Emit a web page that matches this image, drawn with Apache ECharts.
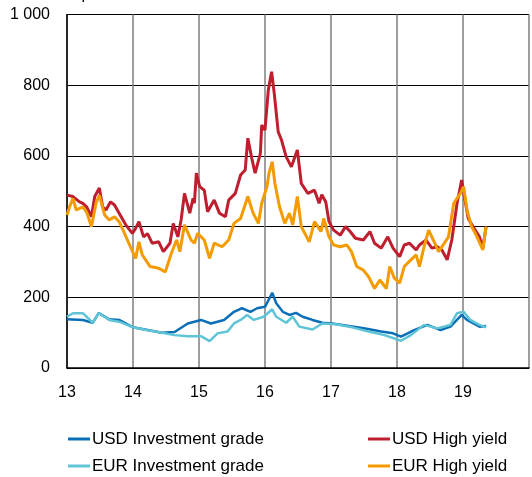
<!DOCTYPE html>
<html>
<head>
<meta charset="utf-8">
<script src="https://cdn.jsdelivr.net/npm/echarts@6/dist/echarts.min.js"></script>
<style>
  html, body { margin: 0; padding: 0; background: #fff; }
  #chart { width: 532px; height: 477px; }
</style>
</head>
<body>
<div id="chart"></div>
<script>
// spreads in basis points, x = year (13 = 2013)
const usdIgDates = [13.00, 13.24, 13.39, 13.48, 13.64, 13.79, 14.00, 14.24, 14.44, 14.63, 14.83, 15.03, 15.18, 15.38, 15.53, 15.65, 15.78, 15.88, 16.00, 16.11, 16.17, 16.27, 16.37, 16.47, 16.57, 16.72, 16.87, 17.02, 17.27, 17.52, 17.76, 17.94, 18.06, 18.26, 18.46, 18.66, 18.81, 18.98, 19.06, 19.25, 19.35];
const usdIgValues = [138, 136, 128, 155, 138, 136, 115, 107, 100, 102, 126, 136, 126, 136, 159, 169, 159, 169, 173, 213, 183, 159, 150, 156, 145, 136, 128, 126, 119, 112, 103, 98, 89, 107, 122, 107, 117, 150, 136, 117, 119];

const eurIgDates = [13.00, 13.09, 13.24, 13.39, 13.48, 13.64, 13.79, 14.00, 14.24, 14.44, 14.63, 14.83, 15.03, 15.16, 15.28, 15.43, 15.53, 15.63, 15.73, 15.83, 15.98, 16.11, 16.17, 16.32, 16.42, 16.52, 16.72, 16.87, 17.07, 17.32, 17.57, 17.81, 18.06, 18.21, 18.41, 18.61, 18.81, 18.91, 19.01, 19.11, 19.25, 19.35];
const eurIgValues = [145, 155, 155, 128, 155, 136, 131, 115, 106, 100, 93, 90, 90, 76, 98, 103, 126, 136, 150, 136, 145, 166, 145, 128, 145, 117, 109, 126, 124, 115, 103, 93, 77, 93, 122, 112, 122, 155, 159, 136, 122, 115];

const usdHyDates = [13.00, 13.09, 13.19, 13.24, 13.30, 13.37, 13.42, 13.49, 13.54, 13.59, 13.66, 13.72, 13.79, 13.89, 13.99, 14.04, 14.09, 14.16, 14.22, 14.29, 14.39, 14.46, 14.56, 14.61, 14.68, 14.73, 14.78, 14.86, 14.91, 14.93, 14.96, 15.01, 15.08, 15.13, 15.23, 15.31, 15.40, 15.45, 15.55, 15.63, 15.70, 15.74, 15.80, 15.85, 15.93, 15.95, 16.00, 16.05, 16.10, 16.14, 16.20, 16.25, 16.32, 16.40, 16.49, 16.55, 16.65, 16.75, 16.82, 16.86, 16.92, 16.97, 17.04, 17.14, 17.22, 17.29, 17.37, 17.49, 17.59, 17.66, 17.76, 17.86, 17.94, 18.04, 18.11, 18.19, 18.29, 18.34, 18.44, 18.53, 18.61, 18.68, 18.76, 18.83, 18.91, 18.98, 19.03, 19.08, 19.15, 19.25, 19.30, 19.35];
const usdHyValues = [489, 485, 470, 466, 455, 428, 485, 509, 456, 447, 470, 461, 438, 405, 381, 395, 414, 371, 380, 353, 357, 329, 353, 409, 371, 420, 494, 438, 480, 466, 551, 513, 503, 442, 475, 438, 428, 475, 494, 546, 560, 650, 593, 551, 607, 687, 673, 786, 838, 777, 668, 645, 598, 569, 617, 522, 494, 503, 466, 490, 470, 414, 390, 376, 400, 386, 367, 362, 386, 353, 339, 371, 339, 315, 348, 353, 334, 348, 362, 339, 343, 334, 306, 362, 466, 532, 475, 423, 400, 371, 339, 400];

const eurHyDates = [13.00, 13.04, 13.09, 13.14, 13.24, 13.30, 13.37, 13.44, 13.49, 13.57, 13.64, 13.72, 13.79, 13.86, 13.96, 14.04, 14.09, 14.14, 14.26, 14.39, 14.49, 14.58, 14.66, 14.71, 14.78, 14.88, 14.93, 14.98, 15.08, 15.16, 15.23, 15.35, 15.45, 15.53, 15.63, 15.74, 15.82, 15.90, 15.95, 16.03, 16.06, 16.11, 16.15, 16.22, 16.30, 16.37, 16.42, 16.49, 16.55, 16.67, 16.75, 16.85, 16.89, 16.97, 17.04, 17.14, 17.24, 17.31, 17.39, 17.49, 17.57, 17.66, 17.74, 17.84, 17.89, 17.96, 18.04, 18.11, 18.21, 18.29, 18.34, 18.41, 18.48, 18.56, 18.63, 18.73, 18.78, 18.86, 18.96, 19.01, 19.06, 19.13, 19.20, 19.30, 19.35];
const eurHyValues = [433, 456, 480, 447, 456, 440, 400, 466, 489, 433, 419, 428, 414, 386, 343, 310, 357, 320, 287, 282, 272, 324, 362, 329, 405, 362, 353, 381, 362, 310, 353, 343, 362, 409, 423, 485, 438, 409, 466, 513, 551, 584, 522, 456, 409, 438, 405, 485, 400, 357, 414, 386, 423, 371, 348, 343, 348, 329, 287, 277, 258, 225, 249, 225, 287, 254, 240, 287, 306, 320, 287, 343, 390, 358, 329, 357, 371, 466, 494, 513, 447, 400, 376, 334, 400];

const xTicks = [13, 14, 15, 16, 17, 18, 19];
const yTicks = [0, 200, 400, 600, 800, 1000];

const seriesNames = ["USD Investment grade", "EUR Investment grade", "USD High yield", "EUR High yield"];
const colors = ["#0a6fb7", "#5ec4d6", "#be1e2d", "#f49b00"];

function pairs(xs, ys) {
  return xs.map((x, i) => [x, ys[i]]);
}

const chart = echarts.init(document.getElementById("chart"));
const font = "Liberation Sans";

// one legend per entry so each sits where it does in the original
const legendSpots = [[68, 430], [68, 457], [368, 430], [368, 457]];

chart.setOption({
  animation: false,
  textStyle: { fontFamily: font },
  graphic: [
    {
      type: "text",
      left: 38,
      top: -13,
      style: { text: "Basis points", fontSize: 16, fontFamily: font, fill: "#000" }
    }
  ],
  legend: seriesNames.map((name, i) => ({
    data: [name],
    left: legendSpots[i][0],
    top: legendSpots[i][1],
    padding: 0,
    itemWidth: 22,
    itemHeight: 3,
    icon: "rect",
    textStyle: { fontSize: 17, lineHeight: 18, color: "#000", fontFamily: font, padding: [0, 0, 0, -3] }
  })),
  grid: {
    left: 67,
    right: -5,
    top: 14.5,
    bottom: 109
  },
  xAxis: {
    type: "value",
    min: 13,
    max: 20,
    interval: 1,
    axisLine: { lineStyle: { color: "#000", width: 1.5 } },
    axisTick: { show: false },
    axisLabel: {
      fontSize: 16,
      color: "#000",
      margin: 17,
      formatter: v => (xTicks.indexOf(v) >= 0 ? String(v) : "")
    },
    splitLine: { show: true, lineStyle: { color: "#7f7f7f", width: 1.5 } }
  },
  yAxis: {
    type: "value",
    min: yTicks[0],
    max: yTicks[yTicks.length - 1],
    interval: 200,
    axisLine: { show: true, lineStyle: { color: "#000", width: 1.5 } },
    axisTick: { show: false },
    axisLabel: {
      fontSize: 16,
      color: "#000",
      margin: 17,
      formatter: v => (v >= 1000 ? "1 000" : String(v))
    },
    splitLine: { show: true, lineStyle: { color: "#000", width: 1 } }
  },
  series: [
    { name: seriesNames[0], data: pairs(usdIgDates, usdIgValues), lw: 2.5 },
    { name: seriesNames[1], data: pairs(eurIgDates, eurIgValues), lw: 2.5 },
    { name: seriesNames[2], data: pairs(usdHyDates, usdHyValues), lw: 3 },
    { name: seriesNames[3], data: pairs(eurHyDates, eurHyValues), lw: 3 }
  ].map((s, i) => ({
    name: s.name,
    type: "line",
    data: s.data,
    showSymbol: false,
    symbol: "none",
    color: colors[i],
    lineStyle: { width: s.lw, color: colors[i] }
  }))
});
</script>
</body>
</html>
